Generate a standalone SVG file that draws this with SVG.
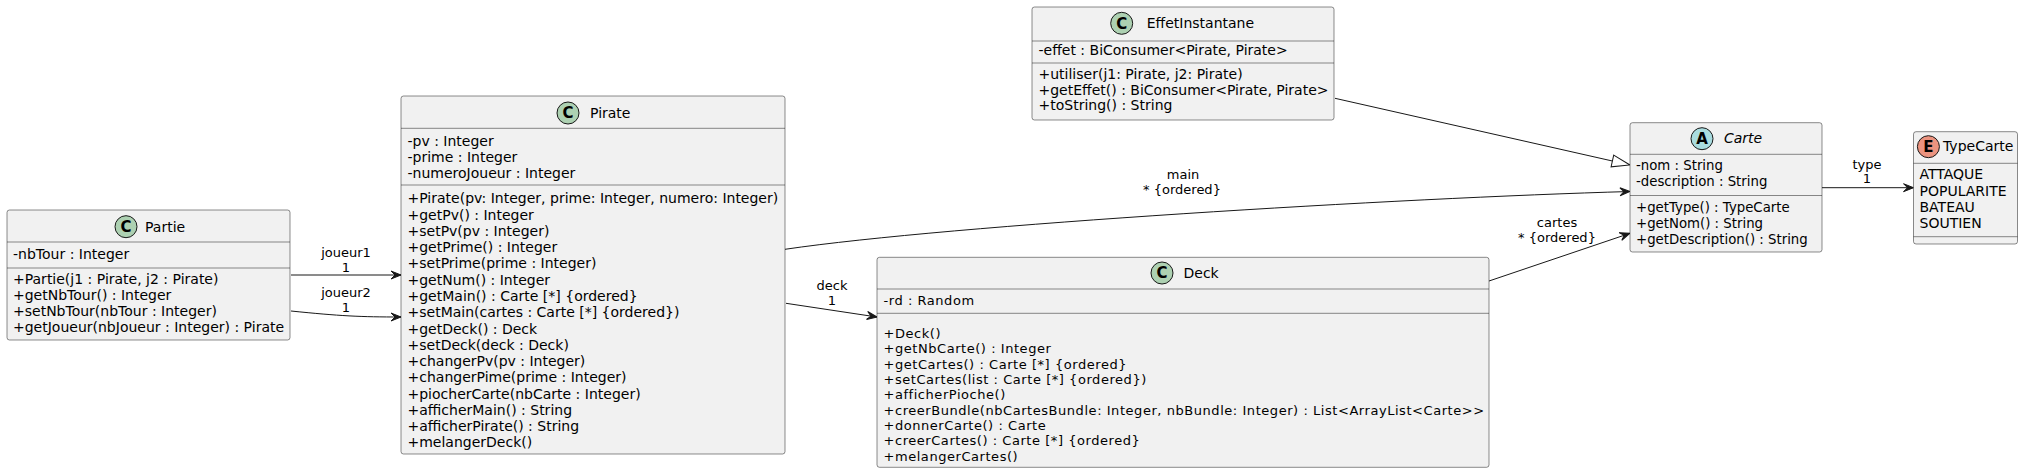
<svg xmlns="http://www.w3.org/2000/svg" width="2023" height="474" viewBox="0 0 2023 474">
<style>
.bg{fill:#FFFFFF}
.box{fill:#F1F1F1;stroke:#181818;stroke-width:0.5}
.dv{stroke:#181818;stroke-width:0.5}
.t{font-family:"DejaVu Sans",sans-serif;font-size:14px;fill:#000000}
.d{font-family:"DejaVu Sans",sans-serif;font-size:13px;letter-spacing:0.55px;fill:#000000}
.c{font-family:"DejaVu Sans",sans-serif;font-size:13.3px;fill:#000000}
.it{font-style:italic}
.sp{stroke:#181818;stroke-width:1}
.ltr{font-family:"DejaVu Sans",sans-serif;font-size:15px;font-weight:bold;text-anchor:middle;fill:#000000}
.e{fill:none;stroke:#181818;stroke-width:1}
.lb{font-family:"DejaVu Sans",sans-serif;font-size:13px;text-anchor:middle;fill:#000000}
</style>
<defs>
<marker id="arr" viewBox="-11 -5 12 10" refX="0" refY="0" markerWidth="12" markerHeight="10" markerUnits="userSpaceOnUse" orient="auto">
<path d="M0,0 L-10,-4 L-6,0 L-10,4 Z" fill="#181818" stroke="#181818" stroke-width="1"/>
</marker>
<marker id="gen" viewBox="-1 -7 20 14" refX="0" refY="0" markerWidth="20" markerHeight="14" markerUnits="userSpaceOnUse" orient="auto">
<path d="M0,-6 L18,0 L0,6 Z" fill="#FFFFFF" stroke="#181818" stroke-width="1"/>
</marker>
</defs>
<rect class="bg" x="0" y="0" width="2023" height="474"/>

<g id="connectors">
<path class="e" d="M291,275 L401,275" marker-end="url(#arr)"/>
<path class="e" d="M291,311 C340,316 360,317 401,317" marker-end="url(#arr)"/>
<path class="e" d="M786,303.3 L877,317" marker-end="url(#arr)"/>
<path class="e" d="M785,249.3 C950,225 1400,198 1630,191.5" marker-end="url(#arr)"/>
<path class="e" d="M1489,281 L1630,233.3" marker-end="url(#arr)"/>
<path class="e" d="M1335,98.3 L1612.4,161" marker-end="url(#gen)"/>
<path class="e" d="M1822,187.7 L1913.5,187.7" marker-end="url(#arr)"/>
<text class="lb" x="346" y="257">joueur1</text>
<text class="lb" x="346" y="272">1</text>
<text class="lb" x="346" y="297">joueur2</text>
<text class="lb" x="346" y="312">1</text>
<text class="lb" x="832" y="290">deck</text>
<text class="lb" x="832" y="305">1</text>
<text class="lb" x="1183" y="179.3">main</text>
<text class="lb" x="1182" y="194.3">* {ordered}</text>
<text class="lb" x="1557" y="226.7">cartes</text>
<text class="lb" x="1557" y="241.7">* {ordered}</text>
<text class="lb" x="1867" y="169.3">type</text>
<text class="lb" x="1867" y="183.3">1</text>
</g>

<g id="Partie">
<rect class="box" x="7" y="210" width="283" height="130" rx="2.5"/>
<line class="dv" x1="7" y1="242" x2="290" y2="242"/>
<line class="dv" x1="7" y1="268" x2="290" y2="268"/>
<circle class="sp" cx="126" cy="226.7" r="11" fill="#ADD1B2"/>
<text class="ltr" x="126" y="232">C</text>
<text class="t" x="145" y="232">Partie</text>
<text class="t" x="13" y="259">-nbTour : Integer</text>
<text class="t" x="13" y="284">+Partie(j1 : Pirate, j2 : Pirate)</text>
<text class="t" x="13" y="300">+getNbTour() : Integer</text>
<text class="t" x="13" y="316">+setNbTour(nbTour : Integer)</text>
<text class="t" x="13" y="332">+getJoueur(nbJoueur : Integer) : Pirate</text>
</g>

<g id="Pirate">
<rect class="box" x="401" y="96" width="384" height="358" rx="2.5"/>
<line class="dv" x1="401" y1="128.3" x2="785" y2="128.3"/>
<line class="dv" x1="401" y1="185" x2="785" y2="185"/>
<circle class="sp" cx="568" cy="113" r="11" fill="#ADD1B2"/>
<text class="ltr" x="568" y="118.3">C</text>
<text class="t" x="590" y="118.3">Pirate</text>
<text class="t" x="407.5" y="146">-pv : Integer</text>
<text class="t" x="407.5" y="162.2">-prime : Integer</text>
<text class="t" x="407.5" y="178.4">-numeroJoueur : Integer</text>
<text class="t" x="407.5" y="203.3">+Pirate(pv: Integer, prime: Integer, numero: Integer)</text>
<text class="t" x="407.5" y="219.6">+getPv() : Integer</text>
<text class="t" x="407.5" y="235.9">+setPv(pv : Integer)</text>
<text class="t" x="407.5" y="252.1">+getPrime() : Integer</text>
<text class="t" x="407.5" y="268.4">+setPrime(prime : Integer)</text>
<text class="t" x="407.5" y="284.7">+getNum() : Integer</text>
<text class="t" x="407.5" y="301">+getMain() : Carte [*] {ordered}</text>
<text class="t" x="407.5" y="317.2">+setMain(cartes : Carte [*] {ordered})</text>
<text class="t" x="407.5" y="333.5">+getDeck() : Deck</text>
<text class="t" x="407.5" y="349.8">+setDeck(deck : Deck)</text>
<text class="t" x="407.5" y="366.1">+changerPv(pv : Integer)</text>
<text class="t" x="407.5" y="382.3">+changerPime(prime : Integer)</text>
<text class="t" x="407.5" y="398.6">+piocherCarte(nbCarte : Integer)</text>
<text class="t" x="407.5" y="414.9">+afficherMain() : String</text>
<text class="t" x="407.5" y="431.2">+afficherPirate() : String</text>
<text class="t" x="407.5" y="447.4">+melangerDeck()</text>
</g>

<g id="EffetInstantane">
<rect class="box" x="1032" y="7" width="302" height="113" rx="2.5"/>
<line class="dv" x1="1032" y1="41" x2="1334" y2="41"/>
<line class="dv" x1="1032" y1="63" x2="1334" y2="63"/>
<circle class="sp" cx="1121.7" cy="23.3" r="11" fill="#ADD1B2"/>
<text class="ltr" x="1121.7" y="28.6">C</text>
<text class="t" x="1146.7" y="28.3">EffetInstantane</text>
<text class="t" x="1038.5" y="55">-effet : BiConsumer&lt;Pirate, Pirate&gt;</text>
<text class="t" x="1038.5" y="79">+utiliser(j1: Pirate, j2: Pirate)</text>
<text class="t" x="1038.5" y="94.7">+getEffet() : BiConsumer&lt;Pirate, Pirate&gt;</text>
<text class="t" x="1038.5" y="110.3">+toString() : String</text>
</g>

<g id="Deck">
<rect class="box" x="877" y="257.3" width="612" height="210" rx="2.5"/>
<line class="dv" x1="877" y1="289" x2="1489" y2="289"/>
<line class="dv" x1="877" y1="313.3" x2="1489" y2="313.3"/>
<circle class="sp" cx="1162" cy="273" r="11" fill="#ADD1B2"/>
<text class="ltr" x="1162" y="278.3">C</text>
<text class="t" x="1183.5" y="278">Deck</text>
<text class="d" x="883.5" y="305">-rd : Random</text>
<text class="d" x="883.5" y="338">+Deck()</text>
<text class="d" x="883.5" y="353.3">+getNbCarte() : Integer</text>
<text class="d" x="883.5" y="368.7">+getCartes() : Carte [*] {ordered}</text>
<text class="d" x="883.5" y="384">+setCartes(list : Carte [*] {ordered})</text>
<text class="d" x="883.5" y="399.3">+afficherPioche()</text>
<text class="d" x="883.5" y="414.7">+creerBundle(nbCartesBundle: Integer, nbBundle: Integer) : List&lt;ArrayList&lt;Carte&gt;&gt;</text>
<text class="d" x="883.5" y="430">+donnerCarte() : Carte</text>
<text class="d" x="883.5" y="445.3">+creerCartes() : Carte [*] {ordered}</text>
<text class="d" x="883.5" y="460.7">+melangerCartes()</text>
</g>

<g id="Carte">
<rect class="box" x="1630" y="122.7" width="192" height="129.3" rx="2.5"/>
<line class="dv" x1="1630" y1="154.3" x2="1822" y2="154.3"/>
<line class="dv" x1="1630" y1="195.5" x2="1822" y2="195.5"/>
<circle class="sp" cx="1702" cy="138.7" r="11" fill="#A9DCDF"/>
<text class="ltr" x="1702" y="144">A</text>
<text class="t it" x="1724" y="143.3">Carte</text>
<text class="c" x="1636" y="170">-nom : String</text>
<text class="c" x="1636" y="186">-description : String</text>
<text class="c" x="1636" y="212">+getType() : TypeCarte</text>
<text class="c" x="1636" y="228">+getNom() : String</text>
<text class="c" x="1636" y="244">+getDescription() : String</text>
</g>

<g id="TypeCarte">
<rect class="box" x="1913.5" y="131.7" width="104" height="112.3" rx="2.5"/>
<line class="dv" x1="1913.5" y1="163.3" x2="2017.5" y2="163.3"/>
<line class="dv" x1="1913.5" y1="236.7" x2="2017.5" y2="236.7"/>
<circle class="sp" cx="1928.4" cy="146.7" r="11" fill="#EB937F"/>
<text class="ltr" x="1928.4" y="152">E</text>
<text class="t" x="1943" y="151">TypeCarte</text>
<text class="t" x="1919.5" y="179.3">ATTAQUE</text>
<text class="t" x="1919.5" y="195.5">POPULARITE</text>
<text class="t" x="1919.5" y="211.7">BATEAU</text>
<text class="t" x="1919.5" y="228">SOUTIEN</text>
</g>
</svg>
